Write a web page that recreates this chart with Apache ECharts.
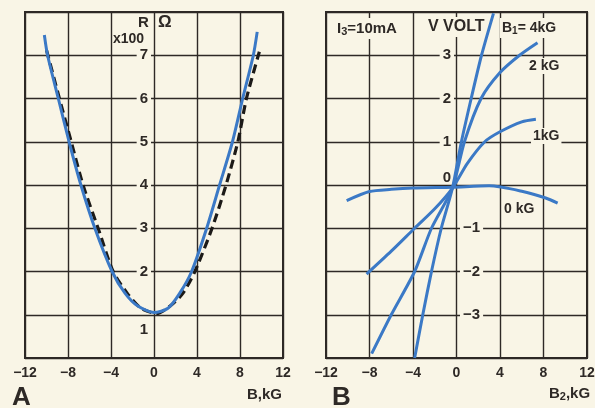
<!DOCTYPE html>
<html>
<head>
<meta charset="utf-8">
<script src="https://cdn.jsdelivr.net/npm/echarts@6/dist/echarts.min.js"></script>
<style>
  html, body { margin: 0; padding: 0; background: #f9f5e6; }
  #chart { width: 595px; height: 408px; }
</style>
</head>
<body>
<div id="chart"></div>
<script>
// panel A: R (x100 ohm) vs B (kG)
const blueB = [-10.2, -9.9, -8.9, -7.9, -6.8, -5.5, -3.9, -2.7, -1.5, 0, 1.3, 2.4, 3.5, 4.9, 6.1, 7.3, 8.25, 9.24, 9.6]
const blueR = [7.47, 7.0, 6.0, 5.0, 4.0, 3.0, 2.0, 1.5, 1.2, 1.05, 1.15, 1.5, 2.0, 3.0, 4.0, 5.0, 6.0, 7.0, 7.54]
const dashB = [-10.0, -8.8, -7.7, -6.6, -5.2, -3.8, -2.5, -1.2, 0.25, 1.5, 2.7, 3.8, 5.4, 6.7, 7.8, 8.6, 9.8]
const dashR = [7.12, 6.0, 5.0, 4.0, 3.0, 2.0, 1.5, 1.15, 1.03, 1.2, 1.5, 2.0, 3.0, 4.0, 5.0, 6.0, 7.08]

// panel B: V (volt) vs B2 (kG), one curve per B1
const b0 = [-10.1, -8, -6, -4, -0.37, 3, 6.1, 8.2, 9.3]
const v0 = [-0.36, -0.15, -0.1, -0.07, -0.05, -0.02, -0.15, -0.3, -0.42]
const b1 = [-8.27, -6, -3.85, -2.0, -0.37, 1.0, 2.6, 4.0, 6.0, 7.3]
const v1 = [-2.06, -1.53, -1.0, -0.55, -0.07, 0.5, 1.0, 1.23, 1.46, 1.52]
const b2 = [-7.8, -6, -3.85, -2.3, -0.37, 0.73, 2.26, 4.0, 5.8, 7.45]
const v2 = [-3.9, -3.0, -2.0, -1.0, -0.07, 1.0, 2.0, 2.6, 3.0, 3.29]
const b4 = [-3.85, -3.1, -2.3, -1.4, -0.37, 0.45, 1.35, 2.3, 3.4]
const v4 = [-4.0, -3.0, -2.0, -1.0, -0.07, 1.0, 2.0, 3.0, 3.97]

const xTicks = [-12, -8, -4, 0, 4, 8, 12]
const rLabels = [1, 2, 3, 4, 5, 6, 7]
const vLabelsUp = [0, 1, 2, 3]
const vLabelsDown = [-3, -2, -1]

const bg = '#f9f5e6'
const ink = '#2e2926'
const blue = '#3b79c6'
const font = 'Liberation Sans'

const pairs = (xs, ys) => xs.map((x, i) => [x, ys[i]])

const chart = echarts.init(document.getElementById('chart'))

const xAxisBase = (gridIndex) => ({
  type: 'value',
  gridIndex,
  min: -12,
  max: 12,
  interval: 4,
  axisLine: { show: false },
  axisTick: { show: false },
  splitLine: { lineStyle: { color: ink, width: 1.4 } },
  axisLabel: {
    margin: 8,
    color: ink,
    fontFamily: font,
    fontWeight: 'bold',
    fontSize: 14,
    formatter: (v) => xTicks.includes(v) ? String(v).replace('-', '\u2212') : ''
  }
})

const splitY = (gridIndex, min, max) => ({
  type: 'value',
  gridIndex,
  min,
  max,
  interval: 1,
  axisLine: { show: false },
  axisTick: { show: false },
  axisLabel: { show: false },
  splitLine: { lineStyle: { color: ink, width: 1.4 } }
})

const labelRich = {
  n: { backgroundColor: bg, padding: [1, 3], color: ink, fontFamily: font, fontWeight: 'bold', fontSize: 15 },
  low: { padding: [30, 3, 0, 3], color: ink, fontFamily: font, fontWeight: 'bold', fontSize: 15 },
  up: { padding: [0, 3, 14, 3], color: ink, fontFamily: font, fontWeight: 'bold', fontSize: 15 }
}

const labelY = (gridIndex, min, max, position, offset, fmt) => ({
  type: 'value',
  gridIndex,
  min,
  max,
  interval: 1,
  position,
  offset,
  axisLine: { show: false },
  axisTick: { show: false },
  splitLine: { show: false },
  axisLabel: { margin: 3, rich: labelRich, formatter: fmt }
})

const curve = (xi, yi, xs, ys, z, lineStyle) => ({
  type: 'line',
  xAxisIndex: xi,
  yAxisIndex: yi,
  smooth: 0.25,
  showSymbol: false,
  z,
  lineStyle,
  data: pairs(xs, ys)
})

const option = {
  backgroundColor: bg,
  animation: false,
  grid: [
    { left: 25, right: 312, top: 12, bottom: 50, show: true, borderColor: ink, borderWidth: 2, outerBoundsMode: 'none' },
    { left: 326, right: 8, top: 12, bottom: 50, show: true, borderColor: ink, borderWidth: 2, outerBoundsMode: 'none' }
  ],
  xAxis: [xAxisBase(0), xAxisBase(1)],
  yAxis: [
    splitY(0, 0, 8),
    labelY(0, 0, 8, 'left', -129, (v) => {
      if (!rLabels.includes(v)) return ''
      return v === 1 ? '{low|1}' : '{n|' + v + '}'
    }),
    splitY(1, -4, 4),
    labelY(1, -4, 4, 'left', -131, (v) => {
      if (!vLabelsUp.includes(v)) return ''
      return v === 0 ? '{up|0}' : '{n|' + v + '}'
    }),
    labelY(1, -4, 4, 'right', -130, (v) => {
      if (!vLabelsDown.includes(v)) return ''
      return '{n|' + String(v).replace('-', '\u2212') + '}'
    })
  ],
  series: [
    curve(0, 0, dashB, dashR, 3, { color: '#1c1a18', width: 3.2, type: [9, 5] }),
    curve(0, 0, blueB, blueR, 4, { color: blue, width: 3 }),
    curve(1, 2, b0, v0, 4, { color: blue, width: 3 }),
    curve(1, 2, b1, v1, 4, { color: blue, width: 3 }),
    curve(1, 2, b2, v2, 4, { color: blue, width: 3 }),
    curve(1, 2, b4, v4, 4, { color: blue, width: 3 })
  ],
  graphic: [
    // panel A texts
    { type: 'text', z: 1, left: 138, top: 15, style: { text: 'R', font: 'bold 15px ' + font, fill: ink } },
    { type: 'text', z: 1, left: 158, top: 14, style: { text: '\u03a9', font: 'bold 17px ' + font, fill: ink } },
    { type: 'text', z: 1, left: 113, top: 32, style: { text: 'x100', font: 'bold 14px ' + font, fill: ink } },
    { type: 'text', z: 1, left: 247, top: 387, style: { text: 'B,kG', font: 'bold 15px ' + font, fill: ink } },
    { type: 'text', z: 1, left: 12, top: 385, style: { text: 'A', font: 'bold 26px ' + font, fill: ink } },
    // panel B texts
    { type: 'text', z: 1, left: 332, top: 385, style: { text: 'B', font: 'bold 26px ' + font, fill: ink } },
    {
      type: 'text', z: 1, left: 549, top: 386,
      style: {
        text: 'B{s|2},kG', font: 'bold 15px ' + font, fill: ink,
        rich: { s: { font: 'bold 11px ' + font, fill: ink, padding: [6, 0, 0, 0] } }
      }
    },
    {
      type: 'text', z: 1, left: 335, top: 18,
      style: {
        text: 'I{s|3}=10mA', font: 'bold 15px ' + font, fill: ink, backgroundColor: bg, padding: [2, 2],
        rich: { s: { font: 'bold 11px ' + font, fill: ink, padding: [6, 0, 0, 0] } }
      }
    },
    { type: 'text', z: 1, left: 426, top: 17, style: { text: 'V VOLT', font: 'bold 16px ' + font, fill: ink, backgroundColor: bg, padding: [2, 2] } },
    {
      type: 'text', z: 1, left: 500, top: 18,
      style: {
        text: 'B{s|1}= 4kG', font: 'bold 14px ' + font, fill: ink, backgroundColor: bg, padding: [2, 2],
        rich: { s: { font: 'bold 10px ' + font, fill: ink, padding: [6, 0, 0, 0] } }
      }
    },
    { type: 'text', z: 1, left: 527, top: 58, style: { text: '2 kG', font: 'bold 14px ' + font, fill: ink, backgroundColor: bg, padding: [1, 2] } },
    { type: 'text', z: 1, left: 531, top: 128, style: { text: '1kG', font: 'bold 14px ' + font, fill: ink, backgroundColor: bg, padding: [1, 2] } },
    { type: 'text', z: 1, left: 502, top: 201, style: { text: '0 kG', font: 'bold 14px ' + font, fill: ink, backgroundColor: bg, padding: [1, 2] } }
  ]
}

chart.setOption(option)
</script>
</body>
</html>
